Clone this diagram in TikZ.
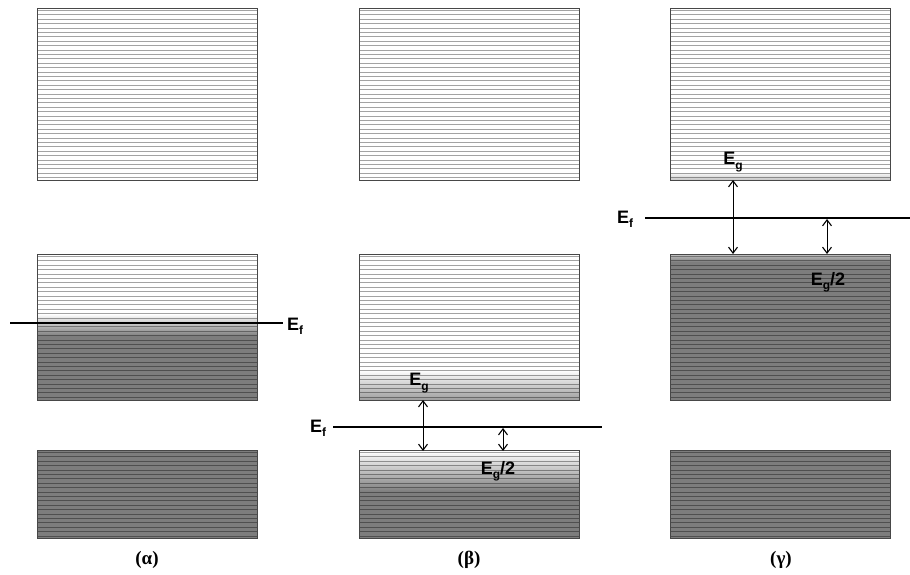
\documentclass[tikz,border=0pt]{standalone}
\usepackage{fontspec}
\setmainfont{Liberation Serif}
\newfontfamily\labfont{Liberation Sans}
\usetikzlibrary{arrows.meta}
\definecolor{dk}{RGB}{125,125,125}
\newcommand\bandlines[4]{%
  \begin{scope}
    \clip (#1,#2) rectangle (#3,#4);
    \foreach \yy in {0,...,40}
      \draw[lvl] (#1,#2+2.4+\yy*4.4) -- (#3,#2+2.4+\yy*4.4);
  \end{scope}%
  \draw[box] (#1,#2) rectangle (#3,#4);}
\newcommand\subl[1]{\raisebox{-0.45ex}{\fontsize{12}{12}\selectfont #1}}
\begin{document}
\begin{tikzpicture}[x=1pt,y=-1pt,
  box/.style={draw=black!72, line width=0.9pt},
  lvl/.style={draw=black, opacity=0.36, line width=0.9pt},
  fermi/.style={line width=1.7pt},
  gaparrow/.style={line width=0.9pt, {Straight Barb[length=6pt,width=9pt,line width=1.1pt]}-{Straight Barb[length=6pt,width=9pt,line width=1.1pt]}},
  elabel/.style={font=\labfont\bfseries\fontsize{18}{20}\selectfont, inner sep=0pt},
  caption/.style={font=\bfseries\fontsize{19}{21}\selectfont, inner sep=0pt}]
\useasboundingbox[fill=white] (0,0) rectangle (910,575);

% ---------- column alpha ----------
\shade[top color=white, bottom color=dk] (37,314) rectangle (257,336);
\fill[dk] (37,336) rectangle (257,400);
\fill[dk] (37,450) rectangle (257,538);
\bandlines{37}{8}{257}{180}
\bandlines{37}{254}{257}{400}
\bandlines{37}{450}{257}{538}
\coordinate (fa1) at (10,323);
\coordinate (fa2) at (283,323);
\draw[fermi] (fa1) -- (fa2);
\node[elabel, anchor=west] (efa) at (287,326) {E\subl{f}};
\node[caption] (capa) at (147,560) {(α)};

% ---------- column beta ----------
\shade[top color=white, bottom color=dk!75] (359,370) rectangle (579,400);
\shade[top color=white, bottom color=dk] (359,451) rectangle (579,492);
\fill[dk] (359,492) rectangle (579,538);
\bandlines{359}{8}{579}{180}
\bandlines{359}{254}{579}{400}
\bandlines{359}{450}{579}{538}
\coordinate (fb1) at (333,427);
\coordinate (fb2) at (602,427);
\draw[fermi] (fb1) -- (fb2);
\node[elabel] (efb) at (318,428) {E\subl{f}};
\coordinate (gb1) at (423,400);
\coordinate (gb2) at (423,451);
\draw[gaparrow] (gb1) -- (gb2);
\coordinate (hb1) at (503,428);
\coordinate (hb2) at (503,451);
\draw[gaparrow] (hb1) -- (hb2);
\node[elabel] (egb) at (419,383) {E\subl{g}};
\node[elabel] (eg2b) at (498,471) {E\subl{g}/2};
\node[caption] (capb) at (469,560) {(β)};

% ---------- column gamma ----------
\shade[top color=white, bottom color=dk!45] (670,172) rectangle (890,180);
\shade[top color=dk!45, bottom color=dk] (670,254) rectangle (890,262);
\fill[dk] (670,262) rectangle (890,400);
\fill[dk] (670,450) rectangle (890,538);
\bandlines{670}{8}{890}{180}
\bandlines{670}{254}{890}{400}
\bandlines{670}{450}{890}{538}
\coordinate (fc1) at (645,218);
\coordinate (fc2) at (910,218);
\draw[fermi] (fc1) -- (fc2);
\node[elabel] (efc) at (625,219) {E\subl{f}};
\coordinate (gc1) at (733,180);
\coordinate (gc2) at (733,254);
\draw[gaparrow] (gc1) -- (gc2);
\coordinate (hc1) at (827,219);
\coordinate (hc2) at (827,254);
\draw[gaparrow] (hc1) -- (hc2);
\node[elabel] (egc) at (733,162) {E\subl{g}};
\node[elabel] (eg2c) at (828,282) {E\subl{g}/2};
\node[caption] (capc) at (781,560) {(γ)};
\end{tikzpicture}
\end{document}
